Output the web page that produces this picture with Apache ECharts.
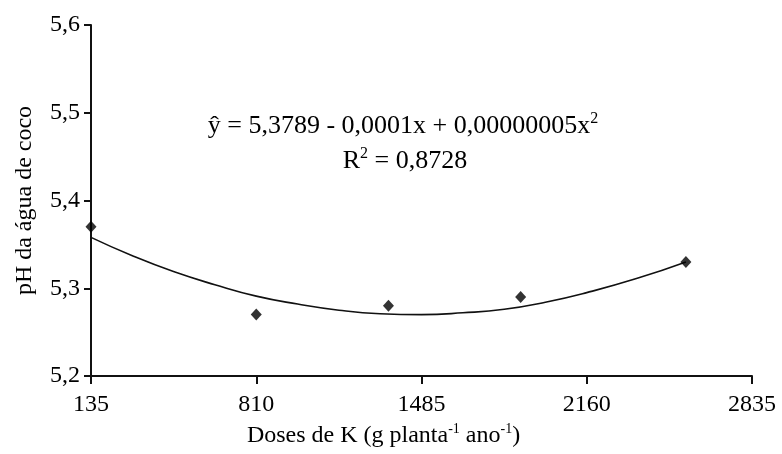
<!DOCTYPE html>
<html>
<head>
<meta charset="utf-8">
<script src="https://cdn.jsdelivr.net/npm/echarts@6/dist/echarts.min.js"></script>
<style>html,body{margin:0;padding:0;background:#fff}#c{width:782px;height:454px}</style>
</head>
<body>
<div id="c"></div>
<script>
// Observed means
const doses = [135, 810, 1350, 1890, 2565];
const phValues = [5.37, 5.27, 5.28, 5.29, 5.33];
// Fitted curve
const curveX = [135, 304, 472, 641, 810, 979, 1148, 1316, 1485, 1654, 1823, 1991, 2160, 2363, 2565];
const curveY = [5.358, 5.337, 5.319, 5.304, 5.291, 5.282, 5.275, 5.271, 5.270, 5.272, 5.276, 5.284, 5.295, 5.311, 5.330];
// Tick labels
const xTicks = [135, 810, 1485, 2160, 2835];
const yTicks = [5.2, 5.3, 5.4, 5.5, 5.6];

const FONT = 'Liberation Serif';
const TXT = '#000';

const chart = echarts.init(document.getElementById('c'), null, {renderer: 'canvas'});
chart.setOption({
  animation: false,
  backgroundColor: '#fff',
  grid: {left: 91, right: 30, top: 25, bottom: 78, containLabel: false},
  xAxis: {
    type: 'value', min: 135, max: 2835,
    name: '{n|Doses de K (g planta}{s|-1}{n| ano}{s|-1}{n|)}',
    nameLocation: 'middle', nameGap: 40,
    nameTextStyle: {
      padding: [0, 76, 0, 0],
      rich: {
        n: {fontFamily: FONT, fontSize: 24, color: TXT, lineHeight: 28},
        s: {fontFamily: FONT, fontSize: 14, color: TXT, verticalAlign: 'top', lineHeight: 16}
      }
    },
    axisLine: {show: true, lineStyle: {color: '#111', width: 2}},
    axisTick: {show: true, length: 8, customValues: xTicks, lineStyle: {color: '#111', width: 2}},
    axisLabel: {customValues: xTicks, fontFamily: FONT, fontSize: 24, color: TXT, margin: 17,
      formatter: v => String(xTicks.find(t => Math.abs(t - v) < 1e-6) ?? v)},
    splitLine: {show: false}
  },
  yAxis: {
    type: 'value', min: 5.2, max: 5.6, interval: 0.1,
    name: 'pH da água de coco',
    nameLocation: 'middle', nameGap: 54,
    nameTextStyle: {fontFamily: FONT, fontSize: 24, color: TXT},
    axisLine: {show: true, lineStyle: {color: '#111', width: 2}},
    axisTick: {show: true, length: 7, lineStyle: {color: '#111', width: 2}},
    axisLabel: {fontFamily: FONT, fontSize: 24, color: TXT, margin: 11,
      formatter: v => { const t = yTicks.find(y => Math.abs(y - v) < 1e-6); return (t !== undefined ? t : v).toFixed(1).replace('.', ','); }},
    splitLine: {show: false}
  },
  graphic: [
    {id: 'eq1', type: 'text', x: 403, y: 126,
     style: {text: '{n|ŷ = 5,3789 - 0,0001x + 0,00000005x}{s|2}', align: 'center', verticalAlign: 'middle',
       rich: {
         n: {fontFamily: FONT, fontSize: 26, fill: TXT, lineHeight: 30},
         s: {fontFamily: FONT, fontSize: 16, fill: TXT, verticalAlign: 'top', lineHeight: 16}
       }}},
    {id: 'eq2', type: 'text', x: 405, y: 161,
     style: {text: '{n|R}{s|2}{n| = 0,8728}', align: 'center', verticalAlign: 'middle',
       rich: {
         n: {fontFamily: FONT, fontSize: 26, fill: TXT, lineHeight: 30},
         s: {fontFamily: FONT, fontSize: 16, fill: TXT, verticalAlign: 'top', lineHeight: 16}
       }}}
  ],
  series: [
    {type: 'line', data: curveX.map((x, i) => [x, curveY[i]]), smooth: true, showSymbol: false,
     lineStyle: {color: '#111', width: 1.6}, z: 2, silent: true},
    {type: 'scatter', data: doses.map((x, i) => [x, phValues[i]]), symbol: 'diamond', symbolSize: [11, 12],
     itemStyle: {color: '#000'}, z: 3}
  ]
});
</script>
</body>
</html>
